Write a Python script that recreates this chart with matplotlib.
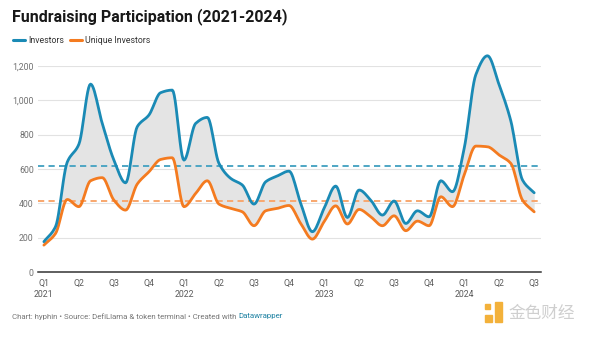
import numpy as np
import matplotlib
matplotlib.use('Agg')
import matplotlib.pyplot as plt
from matplotlib.patches import Rectangle

plt.rcParams['font.family'] = ['Roboto', 'DejaVu Sans']

# monthly counts, Jan 2021 - Jul 2024
investors = [177, 265, 640, 745, 1095, 866, 652, 520, 847, 915,
             1045, 1060, 652, 866, 901, 633, 546, 507, 396, 526,
             560, 588, 400, 235, 371, 501, 318, 478, 419, 332,
             414, 283, 357, 322, 532, 468, 720, 1150, 1260, 1090,
             880, 536, 462]
unique_investors = [157, 225, 423, 381, 532, 550, 419, 361, 513, 584,
                    656, 666, 381, 458, 532, 396, 371, 351, 270, 357,
                    371, 388, 283, 192, 293, 386, 280, 365, 322, 270,
                    328, 241, 297, 270, 439, 381, 565, 734, 730, 682,
                    633, 419, 351]
quarter_labels = ['Q1\n2021', 'Q2', 'Q3', 'Q4', 'Q1\n2022', 'Q2', 'Q3', 'Q4',
                  'Q1\n2023', 'Q2', 'Q3', 'Q4', 'Q1\n2024', 'Q2', 'Q3']
y_ticks = [0, 200, 400, 600, 800, 1000, 1200]

BLUE = '#1a8ab5'
ORANGE = '#f47b20'


def monotone(x, y, n=12):
    # Fritsch-Carlson monotone cubic, used only to draw smooth curves
    x = np.asarray(x, float)
    y = np.asarray(y, float)
    h = np.diff(x)
    d = np.diff(y) / h
    m = np.zeros_like(y)
    m[0], m[-1] = d[0], d[-1]
    for k in range(1, len(y) - 1):
        if d[k - 1] * d[k] <= 0:
            m[k] = 0
        else:
            w1 = 2 * h[k] + h[k - 1]
            w2 = h[k] + 2 * h[k - 1]
            m[k] = (w1 + w2) / (w1 / d[k - 1] + w2 / d[k])
    xs, ys = [], []
    for k in range(len(x) - 1):
        t = np.linspace(0, 1, n, endpoint=False)
        h00 = 2 * t**3 - 3 * t**2 + 1
        h10 = t**3 - 2 * t**2 + t
        h01 = -2 * t**3 + 3 * t**2
        h11 = t**3 - t**2
        xs.append(x[k] + t * h[k])
        ys.append(h00 * y[k] + h10 * h[k] * m[k] + h01 * y[k + 1] + h11 * h[k] * m[k + 1])
    xs.append([x[-1]])
    ys.append([y[-1]])
    return np.concatenate(xs), np.concatenate(ys)


months = np.arange(len(investors))
xb, yb = monotone(months, investors)
xo, yo = monotone(months, unique_investors)

fig = plt.figure(figsize=(6, 3.38), dpi=100)
ax = fig.add_axes([0.063, 0.195, 0.839, 0.6095])

ax.fill_between(xb, yb, yo, color='#e4e4e4', lw=0, zorder=1, clip_on=False)
ax.axhline(np.mean(investors), color='#4ea6c4', lw=1.4, ls=(0, (3.2, 2.2)), zorder=2)
ax.axhline(np.mean(unique_investors), color='#f8a76e', lw=1.4, ls=(0, (3.2, 2.2)), zorder=2)
ax.plot(xb, yb, color=BLUE, lw=2.0, zorder=4, clip_on=False, solid_capstyle='round')
ax.plot(xo, yo, color=ORANGE, lw=2.0, zorder=3, clip_on=False, solid_capstyle='round')

ax.set_xlim(-0.52, 42.6)
ax.set_ylim(0, 1200)
ax.set_yticks(y_ticks)
ax.set_yticklabels([f'{v:,}' for v in y_ticks])
ax.set_xticks(np.arange(0, len(investors), 3))
ax.set_xticklabels(quarter_labels)
ax.grid(axis='y', color='#e2e2e2', lw=0.8, zorder=0)
ax.set_axisbelow(True)
for s in ['top', 'right', 'left']:
    ax.spines[s].set_visible(False)
ax.spines['bottom'].set_color('#333333')
ax.spines['bottom'].set_linewidth(1.1)
ax.spines['bottom'].set_zorder(5)
ax.tick_params(axis='y', length=0, pad=3, labelsize=6.3, labelcolor='#707070')
ax.tick_params(axis='x', length=0, pad=5, labelsize=6.3, labelcolor='#5a5a5a')
for lab in ax.get_xticklabels():
    lab.set_linespacing(1.35)
    lab.set_verticalalignment('top')

fig.text(0.02, 0.952, 'Fundraising Participation (2021-2024)', fontsize=11.5,
         fontweight='bold', color='#181818', va='center')

# legend
for x0, label, c in [(0.022, 'Investors', BLUE), (0.116, 'Unique Investors', ORANGE)]:
    fig.add_artist(plt.Line2D([x0, x0 + 0.02], [0.881, 0.881], color=c, lw=2.2,
                              solid_capstyle='round', transform=fig.transFigure))
    fig.text(x0 + 0.025, 0.881, label, fontsize=6.3, color='#333333', va='center')

# footer
t = fig.text(0.02, 0.064, 'Chart: hyphin \u2022 Source: DefiLlama & token terminal \u2022 Created with ',
             fontsize=5.7, color='#777777', va='center')
fig.canvas.draw()
bb = t.get_window_extent()
fig.text(bb.x1 / fig.bbox.width, 0.064, 'Datawrapper', fontsize=5.7, color='#1d81a2',
         va='center')

# watermark
fig.add_artist(Rectangle((0.808, 0.047), 0.012, 0.022, color='#f3b13a',
                         transform=fig.transFigure))
fig.add_artist(Rectangle((0.825, 0.047), 0.012, 0.06, color='#f3b13a',
                         transform=fig.transFigure))
fig.add_artist(Rectangle((0.808, 0.086), 0.008, 0.014, color='#f3b13a',
                         transform=fig.transFigure))
fig.text(0.848, 0.072, '金色财经', fontsize=12, color='#cfcfcf', va='center',
         family=['Noto Sans CJK SC', 'DejaVu Sans'])

fig.savefig('out.png', dpi=100, facecolor='white')
